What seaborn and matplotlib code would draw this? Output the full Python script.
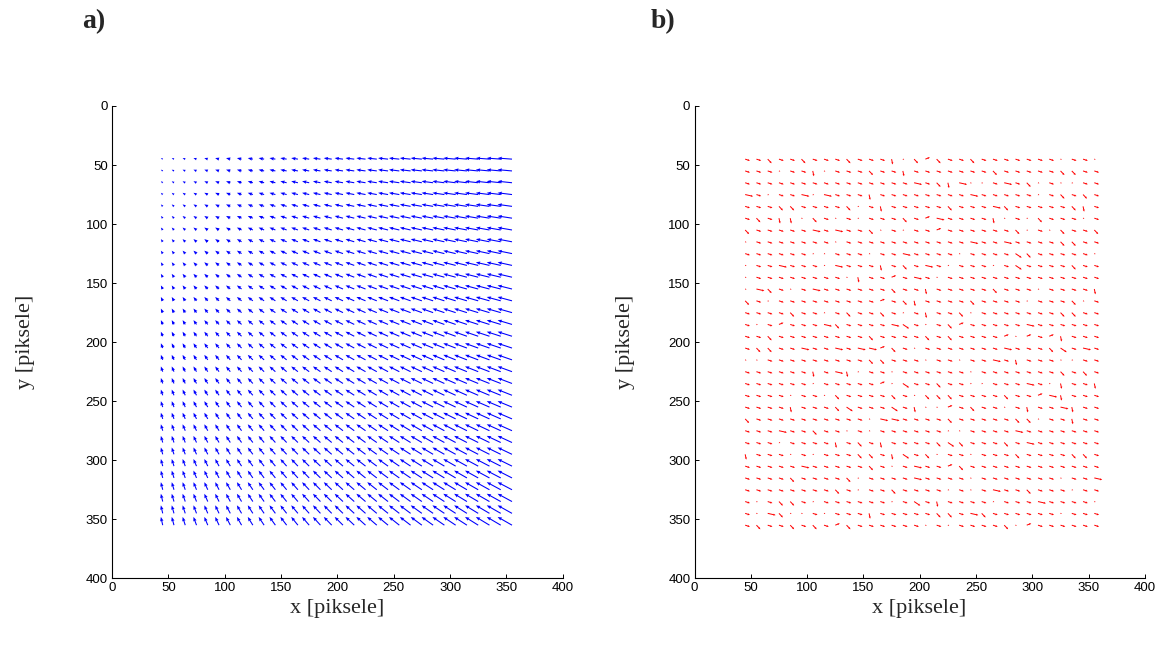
import numpy as np
import matplotlib
matplotlib.use("Agg")
import matplotlib.pyplot as plt
import seaborn as sns

# ---------------- data ----------------
grid_x = [45, 55, 65, 75, 85, 95, 105, 115, 125, 135, 145, 155, 165, 175, 185, 195,
          205, 215, 225, 235, 245, 255, 265, 275, 285, 295, 305, 315, 325, 335, 345, 355]
grid_y = [45, 55, 65, 75, 85, 95, 105, 115, 125, 135, 145, 155, 165, 175, 185, 195,
          205, 215, 225, 235, 245, 255, 265, 275, 285, 295, 305, 315, 325, 335, 345, 355]

# panel a): horizontal component per column, vertical component per row
blue_u_by_column = [-1.62, -1.98, -2.34, -2.70, -3.06, -3.42, -3.78, -4.14, -4.50, -4.86,
                    -5.22, -5.58, -5.94, -6.30, -6.66, -7.02, -7.38, -7.74, -8.10, -8.46,
                    -8.82, -9.18, -9.54, -9.90, -10.26, -10.62, -10.98, -11.34, -11.70,
                    -12.06, -12.42, -12.78]
blue_v_by_row = [-0.89, -1.08, -1.28, -1.48, -1.67, -1.87, -2.07, -2.27, -2.46, -2.66,
                 -2.86, -3.05, -3.25, -3.45, -3.64, -3.84, -4.04, -4.24, -4.43, -4.63,
                 -4.83, -5.02, -5.22, -5.42, -5.61, -5.81, -6.01, -6.21, -6.40, -6.60,
                 -6.80, -6.99]

# panel b): residual vectors, one character per arrow
red_codes = ["h", ".", "d", "s", "l", "L", "u"]
red_code_u = [4.2, 1.2, 3.5, 1.0, 7.0, 5.5, 4.0]
red_code_v = [1.3, 0.4, 3.5, 4.5, 1.5, 3.5, -1.5]
red_rows = [
    "hhdhhdhhhdhhhs.dudhhdhhhhhhh.hh.",
    "hhh.hhs.hhhdhhshhhhhhhdhhhhhddhh",
    "hhhhhhhhhhhhhhhlhdsl..hlhd.h..hh",
    "lh.hhl.lhhhshhhhhhhhlhhhhh.hdhdh",
    "hhhddhhhhd.hshhhhhdhhhldhhhhhdsh",
    "hdhss.dh.h.hhhdhulhhhhs.h.dhhh.h",
    "dhhhhhlhlhhd.h.hhuhhhhhhd.h.dhhd",
    ".hhhhhhh.hhhhhhhhhhhlhhlhhhhddhh",
    "hhhhhh..hhh.hhlhhhh.hhhhLdhhhhh.",
    ".hhlhhh.lhhhshdhlh.hhh.hLhhhhdhh",
    ".hhhhhhhh.shhuhlh.hhhhhhhhhhhhhh",
    ".ldh.hlhhhhhhdhhshhhhhdhhh.hhhhs",
    "dh.hhhhhhhhhuhdshhhhdhhhh.hhhd.h",
    "hhhhdhh.hdhhdh.hshhd.hhhhhhhddhh",
    "h.huhhhldhhhhlLh.hduhhhhhlhhhhhh",
    "hhdhhhhhhhhdhhhhdhdhhhhu.uhushhh",
    "hddhhlhhlhlludh.hhhhhhhlhhhdLhlh",
    "..hhhhhhhhhddhhh.hh.hhlhshhh..hh",
    "hhhhhhshls.hh.hhhhhh.hhhhhhhdhdh",
    "hhhhhh.hhhhhu.Lhhdhh..hhhlh.shhs",
    "hhhh.hh.dhhhhdh.dddhhhhdhhulshhh",
    "hhhhshhhdLhhhLhs..uhdhh.hshhlshh",
    "dhhhhhhhhhh.llhhhhdhhhhhdd.hhshh",
    "hhhlhhdhh.h.hhhhhh..hhhhlhhhhhhh",
    "hhh.hhhhshdhshhhhdLdhhhdhlhhhhhh",
    "shhh.h.hhhddhsLhd.hh.hhhdhhhhddh",
    "hhhhhlhhhhhdh.hlhhudhhhhhhhhhhhh",
    "hhhhdhhhhd.hhhhlhhhh.hhhhhhh.hhl",
    "hhhhhhhhdh.hhdhhhh.h.hlhhdhhh.hh",
    "h.hddh.hhhhhh.hLhshhhh.hhhlhhhh.",
    "h.ld..h.hhhshhhhhddhldhhhhhh.hhh",
    "hdhhdhdhudhhhhhh.h.hhhhd.uhhhhhh",
]

axis_ticks = [0, 50, 100, 150, 200, 250, 300, 350, 400]
x_label = "x [piksele]"
y_label = "y [piksele]"
panel_labels = ["a)", "b)"]

# ---------------- style ----------------
sns.set_theme(style="ticks")
plt.rcParams.update({
    "font.family": ["Liberation Sans", "DejaVu Sans"],
    "axes.linewidth": 0.8,
    "axes.edgecolor": "black",
    "xtick.direction": "in",
    "ytick.direction": "in",
    "xtick.major.size": 3,
    "ytick.major.size": 3,
    "xtick.major.width": 0.7,
    "ytick.major.width": 0.7,
    "xtick.color": "black",
    "ytick.color": "black",
    "xtick.labelsize": 9.5,
    "ytick.labelsize": 9.5,
})

W, H = 1163, 646
fig = plt.figure(figsize=(W / 100, H / 100), dpi=100)
fig.patch.set_facecolor("white")

ax1 = fig.add_axes([112 / W, 1 - 578.3 / H, 450.7 / W, 472.3 / H])
ax2 = fig.add_axes([694.5 / W, 1 - 578.3 / H, 450.5 / W, 472.3 / H])

X, Y = np.meshgrid(grid_x, grid_y)

U1 = np.tile(np.array(blue_u_by_column), (len(grid_y), 1))
V1 = np.tile(np.array(blue_v_by_row)[:, None], (1, len(grid_x)))
ax1.quiver(X, Y, U1, V1, color="blue", angles="xy", scale_units="xy", scale=1,
           width=0.0024, headwidth=3.2, headlength=4.0, headaxislength=3.6)

lut_u = dict(zip(red_codes, red_code_u))
lut_v = dict(zip(red_codes, red_code_v))
U2 = np.array([[lut_u[c] for c in row] for row in red_rows])
V2 = np.array([[lut_v[c] for c in row] for row in red_rows])
ax2.quiver(X, Y, U2, V2, color="red", angles="xy", scale_units="xy", scale=1,
           width=0.0022, headwidth=2.2, headlength=2.2, headaxislength=2.0)

ylab_x = [-0.193, -0.154]
for ax, ylx, lab, lx in zip([ax1, ax2], ylab_x, panel_labels, [94, 663]):
    ax.set_facecolor("white")
    ax.set_xlim(0, 400)
    ax.set_ylim(400, 0)
    ax.set_xticks(axis_ticks)
    ax.set_yticks(axis_ticks)
    ax.grid(False)
    sns.despine(ax=ax)
    ax.tick_params(axis="both", which="major", pad=3)
    ax.set_xlabel(x_label, family=["Liberation Serif", "DejaVu Serif"], fontsize=16,
                  va="center")
    ax.set_ylabel(y_label, family=["Liberation Serif", "DejaVu Serif"], fontsize=16,
                  va="center")
    ax.xaxis.set_label_coords(0.499, -0.064)
    ax.yaxis.set_label_coords(ylx, 0.5)
    fig.text(lx / W, 1 - 22 / H, lab, family=["Liberation Serif", "DejaVu Serif"],
             fontsize=20, fontweight="bold", ha="center", va="center")

fig.savefig("out.png", dpi=100, facecolor="white")
